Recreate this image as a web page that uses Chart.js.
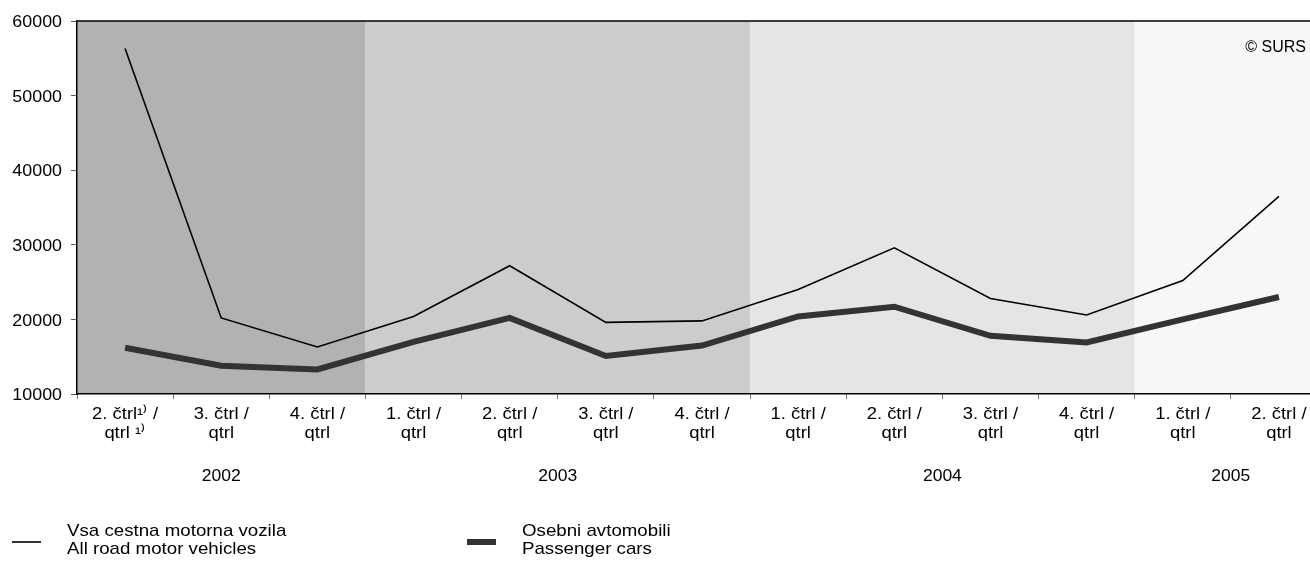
<!DOCTYPE html>
<html>
<head>
<meta charset="utf-8">
<script src="https://cdn.jsdelivr.net/npm/chart.js@4/dist/chart.umd.min.js"></script>
<style>
  html, body { margin: 0; padding: 0; background: #fff; overflow: hidden; }
  #wrap { width: 1327px; height: 561px; }
</style>
</head>
<body>
<div id="wrap"><canvas id="myChart" width="1327" height="561"></canvas></div>
<script>
// quarters, grouped by year
var quarters = [
    ['2. čtrl¹⁾ /', 'qtrl ¹⁾'], ['3. čtrl /', 'qtrl'], ['4. čtrl /', 'qtrl'],
    ['1. čtrl /', 'qtrl'], ['2. čtrl /', 'qtrl'], ['3. čtrl /', 'qtrl'], ['4. čtrl /', 'qtrl'],
    ['1. čtrl /', 'qtrl'], ['2. čtrl /', 'qtrl'], ['3. čtrl /', 'qtrl'], ['4. čtrl /', 'qtrl'],
    ['1. čtrl /', 'qtrl'], ['2. čtrl /', 'qtrl']
];
var years = ['2002', '2003', '2004', '2005'];
var quartersPerYear = [3, 4, 4, 2];
var yearShades = ['#b2b2b2', '#cccccc', '#e5e5e5', '#f7f7f7'];

var allVehicles = [56300, 20200, 16300, 20400, 27200, 19600, 19800, 24000, 29600, 22800, 20600, 25200, 36500];
var passengerCars = [16200, 13800, 13300, 17000, 20200, 15100, 16500, 20400, 21700, 17800, 16900, 20000, 23000];

var seriesNames = [
    ['Vsa cestna motorna vozila', 'All road motor vehicles'],
    ['Osebni avtomobili', 'Passenger cars']
];
var yTicks = [10000, 20000, 30000, 40000, 50000, 60000];

var FONT = "'Liberation Sans', Arial, sans-serif";

// text in the original is a bit wider than Arial, so stretch it sideways
function wideText(ctx, text, x, y, size, align, sx) {
    ctx.save();
    ctx.translate(x, y);
    ctx.scale(sx, 1);
    ctx.font = size + 'px ' + FONT;
    ctx.textAlign = align;
    ctx.textBaseline = 'alphabetic';
    ctx.fillStyle = '#000';
    ctx.fillText(text, 0, 0);
    ctx.restore();
}

var yearBands = {
    id: 'yearBands',
    beforeDraw: function(chart) {
        var ctx = chart.ctx;
        var x = chart.scales.x;
        var area = chart.chartArea;
        var half = (x.getPixelForValue(1) - x.getPixelForValue(0)) / 2;
        var idx = 0;
        years.forEach(function(year, i) {
            var left = x.getPixelForValue(idx) - half;
            var right = x.getPixelForValue(idx + quartersPerYear[i] - 1) + half;
            ctx.fillStyle = yearShades[i];
            ctx.fillRect(left, area.top, right - left, area.bottom - area.top);
            wideText(ctx, year, (left + right) / 2, 481, 17, 'center', 1.03);
            idx += quartersPerYear[i];
        });
    },
    afterDraw: function(chart) {
        var ctx = chart.ctx;
        var area = chart.chartArea;
        var x = chart.scales.x, y = chart.scales.y;

        ctx.save();
        ctx.strokeStyle = '#000';
        ctx.lineWidth = 1.5;
        ctx.beginPath();
        ctx.moveTo(area.left, area.top);
        ctx.lineTo(area.right, area.top);
        ctx.stroke();
        ctx.restore();

        // axis labels
        chart.data.labels.forEach(function(lab, i) {
            var px = x.getPixelForValue(i);
            wideText(ctx, lab[0], px, 419, 16, 'center', 1.15);
            wideText(ctx, lab[1], px, 437.5, 16, 'center', 1.15);
        });
        yTicks.forEach(function(v) {
            wideText(ctx, String(v), 62, y.getPixelForValue(v) + 6.2, 17, 'right', 1.05);
        });

        wideText(ctx, '© SURS', 1306, 52, 16, 'right', 1);

        // legend
        var spots = [12, 467];
        chart.data.datasets.forEach(function(ds, i) {
            var lx = spots[i];
            ctx.save();
            ctx.strokeStyle = ds.borderColor;
            ctx.lineWidth = ds.borderWidth;
            ctx.beginPath();
            ctx.moveTo(lx, 542);
            ctx.lineTo(lx + 29, 542);
            ctx.stroke();
            ctx.restore();
            wideText(ctx, seriesNames[i][0], lx + 55, 535.5, 17, 'left', 1.1);
            wideText(ctx, seriesNames[i][1], lx + 55, 554, 17, 'left', 1.1);
        });
    }
};

var ctx = document.getElementById('myChart').getContext('2d');
var chart = new Chart(ctx, {
    type: 'line',
    data: {
        labels: quarters,
        datasets: [{
            label: seriesNames[0].join(' / '),
            data: allVehicles,
            borderColor: '#000000',
            borderWidth: 1.6,
            pointRadius: 0,
            tension: 0
        }, {
            label: seriesNames[1].join(' / '),
            data: passengerCars,
            borderColor: '#333333',
            borderWidth: 6,
            pointRadius: 0,
            tension: 0
        }]
    },
    plugins: [yearBands],
    options: {
        responsive: false,
        animation: false,
        layout: { padding: { top: 21, right: 0, left: 0, bottom: 0 } },
        plugins: {
            legend: { display: false },
            tooltip: { enabled: false }
        },
        scales: {
            x: {
                offset: true,
                grid: { offset: true, drawOnChartArea: false, drawTicks: true, tickLength: 5, color: '#777' },
                border: { color: '#000', width: 1.5 },
                ticks: { display: false, autoSkip: false },
                afterFit: function(scale) { scale.height = 167; }
            },
            y: {
                min: 10000,
                max: 60000,
                afterBuildTicks: function(scale) {
                    scale.ticks = yTicks.map(function(v) { return { value: v }; });
                },
                grid: { drawOnChartArea: false, drawTicks: true, tickLength: 6, color: '#555' },
                border: { color: '#000', width: 1.5 },
                ticks: { display: false },
                afterFit: function(scale) { scale.width = 77; }
            }
        }
    }
});
</script>
</body>
</html>
